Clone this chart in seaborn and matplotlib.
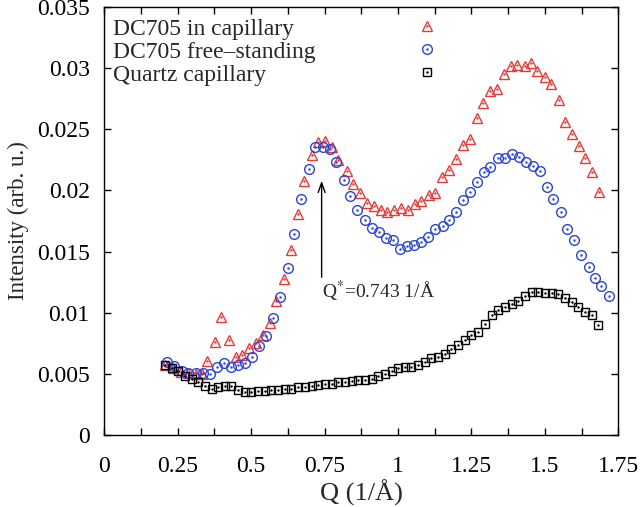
import matplotlib
matplotlib.use("Agg")
import matplotlib.pyplot as plt
from matplotlib.legend_handler import HandlerTuple
from matplotlib.lines import Line2D
import seaborn as sns

# DC705 in capillary (red triangles)
q_cap = [0.206, 0.234, 0.260, 0.285, 0.311, 0.333, 0.351, 0.376, 0.399, 0.424,
         0.447, 0.469, 0.493, 0.516, 0.541, 0.564, 0.586, 0.611, 0.634, 0.660,
         0.680, 0.706, 0.728, 0.751, 0.774, 0.796, 0.825, 0.847, 0.870, 0.893,
         0.918, 0.941, 0.963, 0.988, 1.011, 1.034, 1.057, 1.080, 1.104, 1.127,
         1.150, 1.174, 1.197, 1.220, 1.244, 1.268, 1.290, 1.313, 1.338, 1.361,
         1.384, 1.406, 1.431, 1.454, 1.474, 1.499, 1.522, 1.547, 1.569, 1.592,
         1.615, 1.638, 1.660, 1.685]
i_cap = [0.00572, 0.00545, 0.00517, 0.00504, 0.00498, 0.00498, 0.00607, 0.00763, 0.00966, 0.00779,
         0.00640, 0.00654, 0.00708, 0.00752, 0.00821, 0.00916, 0.01100, 0.01277, 0.01517, 0.01811,
         0.02075, 0.02293, 0.02396, 0.02404, 0.02355, 0.02247, 0.02159, 0.02051, 0.01980, 0.01898,
         0.01871, 0.01844, 0.01822, 0.01844, 0.01860, 0.01838, 0.01887, 0.01914, 0.01961, 0.01980,
         0.02108, 0.02171, 0.02255, 0.02373, 0.02422, 0.02596, 0.02715, 0.02813, 0.02833, 0.02949,
         0.03020, 0.03025, 0.03020, 0.03042, 0.02976, 0.02927, 0.02873, 0.02737, 0.02560, 0.02465,
         0.02361, 0.02269, 0.02149, 0.01988]

# DC705 free-standing (blue circles)
q_free = [0.212, 0.238, 0.263, 0.285, 0.311, 0.337, 0.359, 0.382, 0.407, 0.431,
          0.456, 0.479, 0.503, 0.526, 0.552, 0.575, 0.598, 0.624, 0.645, 0.670,
          0.696, 0.718, 0.743, 0.768, 0.789, 0.816, 0.837, 0.862, 0.887, 0.911,
          0.934, 0.959, 0.984, 1.006, 1.029, 1.054, 1.079, 1.102, 1.127, 1.152,
          1.174, 1.197, 1.220, 1.245, 1.270, 1.293, 1.315, 1.340, 1.363, 1.388,
          1.411, 1.436, 1.460, 1.483, 1.506, 1.529, 1.554, 1.576, 1.599, 1.624,
          1.649, 1.672, 1.692, 1.717]
i_free = [0.00599, 0.00564, 0.00525, 0.00509, 0.00504, 0.00504, 0.00498, 0.00553, 0.00591, 0.00558,
          0.00569, 0.00586, 0.00640, 0.00727, 0.00811, 0.00953, 0.01130, 0.01362, 0.01642, 0.01931,
          0.02179, 0.02355, 0.02355, 0.02342, 0.02233, 0.02089, 0.01953, 0.01838, 0.01762, 0.01697,
          0.01659, 0.01615, 0.01593, 0.01525, 0.01544, 0.01552, 0.01579, 0.01620, 0.01681, 0.01713,
          0.01762, 0.01822, 0.01926, 0.01985, 0.02067, 0.02151, 0.02192, 0.02269, 0.02269, 0.02301,
          0.02274, 0.02233, 0.02198, 0.02157, 0.02029, 0.01934, 0.01822, 0.01689, 0.01593, 0.01476,
          0.01375, 0.01288, 0.01217, 0.01136]

# Quartz capillary (black squares)
q_quartz = [0.206, 0.229, 0.251, 0.274, 0.297, 0.319, 0.342, 0.365, 0.388, 0.410,
            0.433, 0.456, 0.478, 0.501, 0.524, 0.547, 0.569, 0.592, 0.615, 0.637,
            0.660, 0.683, 0.706, 0.728, 0.751, 0.774, 0.796, 0.819, 0.842, 0.864,
            0.887, 0.910, 0.932, 0.955, 0.978, 1.000, 1.023, 1.046, 1.069, 1.091,
            1.114, 1.137, 1.160, 1.182, 1.205, 1.228, 1.250, 1.273, 1.296, 1.319,
            1.341, 1.364, 1.387, 1.409, 1.432, 1.455, 1.478, 1.500, 1.523, 1.546,
            1.568, 1.591, 1.614, 1.637, 1.659, 1.682]
i_quartz = [0.0057, 0.00545, 0.0052, 0.0048, 0.00455, 0.0043, 0.0040, 0.0038, 0.0039, 0.0040,
            0.0040, 0.0037, 0.0035, 0.0035, 0.0036, 0.0036, 0.0037, 0.0037, 0.0038, 0.0038,
            0.0039, 0.0039, 0.0040, 0.0041, 0.0042, 0.0042, 0.0043, 0.0043, 0.0044, 0.0045,
            0.0045, 0.0046, 0.0048, 0.0050, 0.0052, 0.00545, 0.0056, 0.0056, 0.0057, 0.0060,
            0.0063, 0.0064, 0.0066, 0.0070, 0.0074, 0.0078, 0.0082, 0.0084, 0.0091, 0.0098,
            0.0102, 0.0105, 0.0107, 0.0110, 0.0114, 0.0117, 0.0117, 0.0116, 0.0116, 0.0115,
            0.0112, 0.0109, 0.0105, 0.0101, 0.0098, 0.0090]

x_ticks = [0, 0.25, 0.5, 0.75, 1, 1.25, 1.5, 1.75]
x_labels = ["0", "0.25", "0.5", "0.75", "1", "1.25", "1.5", "1.75"]
y_ticks = [0, 0.005, 0.01, 0.015, 0.02, 0.025, 0.03, 0.035]
y_labels = ["0", "0.005", "0.01", "0.015", "0.02", "0.025", "0.03", "0.035"]

sns.set_style("ticks")
plt.rcParams["font.family"] = ["Liberation Serif", "DejaVu Serif"]
plt.rcParams["mathtext.fontset"] = "stix"

fig = plt.figure(figsize=(6.4, 5.07), dpi=100)
ax = fig.add_axes([0.163, 0.142, 0.803, 0.844])

series = [
    (q_cap, i_cap, "^", "#e23c3a", 7.8, "DC705 in capillary"),
    (q_free, i_free, "o", "#2a44d4", 7.0, "DC705 free–standing"),
    (q_quartz, i_quartz, "s", "black", 6.3, "Quartz capillary"),
]

handles = []
labels = []
for q, inten, mk, col, ms, lab in series:
    sns.lineplot(x=q, y=inten, ax=ax, marker=mk, linestyle="", color=col,
                 markersize=ms, markerfacecolor="none", markeredgecolor=col,
                 markeredgewidth=1.0, sort=False)
    # small dot in the middle of every symbol
    ax.plot(q, inten, linestyle="", marker=".", markersize=1.5, color=col)
    h1 = Line2D([], [], linestyle="", marker=mk, markersize=ms,
                markerfacecolor="none", markeredgecolor=col, markeredgewidth=1.0)
    h2 = Line2D([], [], linestyle="", marker=".", markersize=1.5, color=col)
    handles.append((h1, h2))
    labels.append(lab)

# legend: text on the left, symbols in a column further right
blank = [Line2D([], [], linestyle="", marker="") for _ in labels]
leg_txt = ax.legend(blank, labels, loc="upper left", bbox_to_anchor=(0.0165, 0.973),
                    frameon=False, fontsize=17, handlelength=0, handletextpad=0,
                    labelspacing=0.05, borderaxespad=0, borderpad=0)
ax.add_artist(leg_txt)
ax.legend(handles, [" "] * len(handles), handler_map={tuple: HandlerTuple(ndivide=1)},
          loc="upper left", bbox_to_anchor=(0.5815, 0.974), frameon=False,
          fontsize=17, handlelength=2, handletextpad=0,
          labelspacing=0.05, borderaxespad=0, borderpad=0)

# arrow and label for the first peak
ax.annotate("", xy=(0.740, 0.0208), xytext=(0.740, 0.0129),
            arrowprops=dict(arrowstyle="->,head_length=0.7,head_width=0.25",
                            color="black", lw=1.0, shrinkA=0, shrinkB=0))
ax.text(0.742, 0.0112, r"Q$^{*}$=0.743 1/Å", fontsize=14, ha="left", va="baseline")

ax.set_xlim(0, 1.75)
ax.set_ylim(0, 0.035)
ax.set_xticks(x_ticks)
ax.set_xticklabels(x_labels)
ax.set_xticks([0.125, 0.375, 0.625, 0.875, 1.125, 1.375, 1.625], minor=True)
ax.set_yticks(y_ticks)
ax.set_yticklabels(y_labels)
ax.tick_params(which="both", direction="in", top=True, right=True,
               length=5, width=1, labelsize=17, colors="black")
ax.tick_params(axis="x", pad=15)
ax.tick_params(axis="y", pad=10.5)
for sp in ax.spines.values():
    sp.set_visible(True)
    sp.set_linewidth(1.0)
    sp.set_color("black")

ax.set_xlabel("Q (1/Å)", fontsize=19, labelpad=2)
ax.set_ylabel("Intensity (arb. u.)", fontsize=16.5, labelpad=6)

fig.savefig("out.png", dpi=100)
